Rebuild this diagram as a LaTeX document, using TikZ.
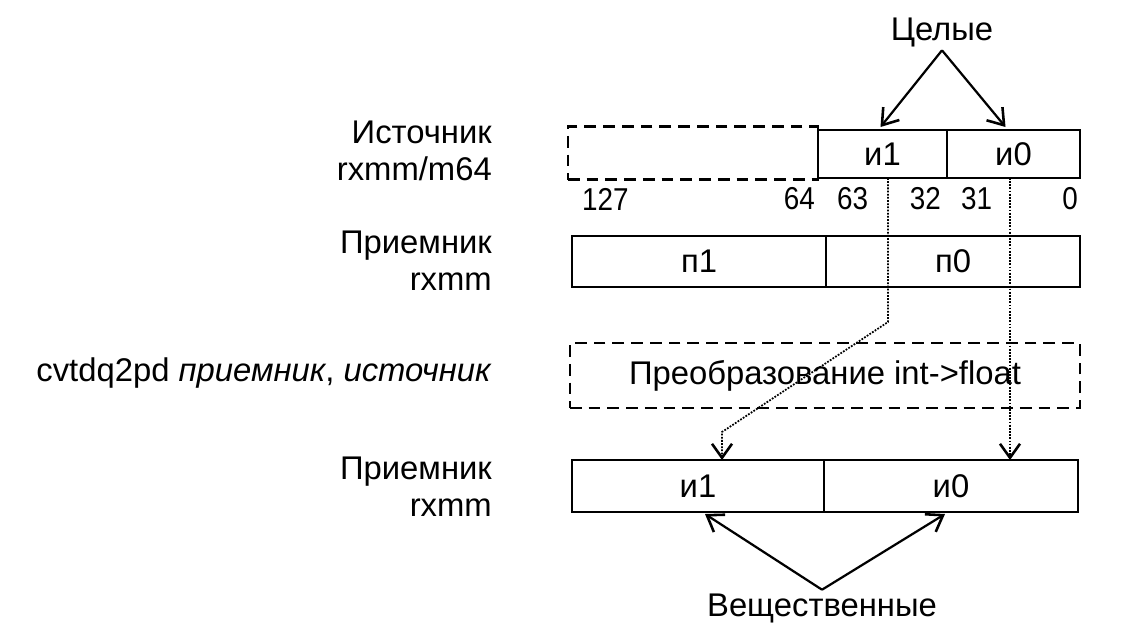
\documentclass[tikz,border=0pt]{standalone}
\usepackage{fontspec}
\setmainfont{Liberation Sans}
\newfontfamily\bitfont{Liberation Sans}[FakeStretch=0.88]
\usetikzlibrary{arrows.meta,positioning,calc}

\tikzset{
  txt/.style={font=\fontsize{28}{31.5}\selectfont,inner sep=0pt},
  cell/.style={draw,line width=1.9pt,outer sep=0pt,inner sep=0pt,txt},
  dashcell/.style={cell,dash pattern=on 10pt off 6pt},
  lbl/.style={txt,align=right,anchor=east},
  bitnum/.style={font=\bitfont\fontsize{27}{28}\selectfont,inner sep=0pt},
  ptr/.style={line width=1.9pt,-{Straight Barb[length=0.45cm,width=0.62cm,line width=2.2pt]}},
  dotptr/.style={line width=1.5pt,dash pattern=on 1.5pt off 1.2pt,-{Straight Barb[length=0.42cm,width=0.6cm,line width=2.2pt]}}
}

\begin{document}
\begin{tikzpicture}[x=0.03cm,y=-0.03cm]
  \useasboundingbox (0,0) rectangle (1142,637);
  % Source register
  \node[dashcell,minimum width=7.5cm,minimum height=1.59cm] (ds) at (693,153) {};
  \node[cell,minimum width=3.87cm,minimum height=1.44cm] (s1) at (882.5,154) {и1};
  \node[cell,minimum width=3.99cm,minimum height=1.44cm,right=0pt of s1] (s0) {и0};
  % Bit numbers
  \node[bitnum,anchor=west] (b127) at (582,199) {127};
  \node[bitnum,anchor=east] (b64) at (815,199) {64};
  \node[bitnum,anchor=west] (b63) at (837,199) {63};
  \node[bitnum,anchor=east] (b32) at (941,199) {32};
  \node[bitnum,anchor=west] (b31) at (961,199) {31};
  \node[bitnum,anchor=east] (b0) at (1078,199) {0};
  % Destination register
  \node[cell,minimum width=7.62cm,minimum height=1.53cm] (p1) at (699,261.5) {п1};
  \node[cell,minimum width=7.62cm,minimum height=1.53cm,right=0pt of p1] (p0) {п0};
  % Conversion
  \node[dashcell,minimum width=15.3cm,minimum height=1.95cm] (conv) at (825,375.5) {Преобразование int->float};
  % Result register
  \node[cell,minimum width=7.56cm,minimum height=1.56cm] (r1) at (698,486) {и1};
  \node[cell,minimum width=7.62cm,minimum height=1.56cm,right=0pt of r1] (r0) {и0};
  % Left labels
  \node[lbl] (src) at (492,151) {Источник\\rxmm/m64};
  \node[lbl] (dst) at (492,261) {Приемник\\rxmm};
  \node[lbl] (cmd) at (492,373) {cvtdq2pd \textit{приемник}, \textit{источник}};
  \node[lbl] (res) at (492,487) {Приемник\\rxmm};
  % Top and bottom captions
  \node[txt,inner sep=3pt] (int) at (942,32) {Целые};
  \node[txt,inner sep=3pt] (flt) at (822,608) {Вещественные};
  \draw[ptr] (int.south) -- ($(s1.north)+(-2,-3)$);
  \draw[ptr] (int.south) -- ($(s0.north)+(-8,-3)$);
  \draw[ptr] (flt.north) -- ($(r1.south)+(7,2)$);
  \draw[ptr] (flt.north) -- ($(r0.south)+(-6,2)$);
  % Data flow
  \coordinate (k1) at (888,322);
  \coordinate (k2) at (722,432);
  \coordinate (k3) at (1010,300);
  \draw[dotptr] (s1.south -| k1) -- (k1) -- (k2) -- (r1.north -| k2);
  \draw[dotptr] (s0.south -| k3) -- (r0.north -| k3);
\end{tikzpicture}
\end{document}
